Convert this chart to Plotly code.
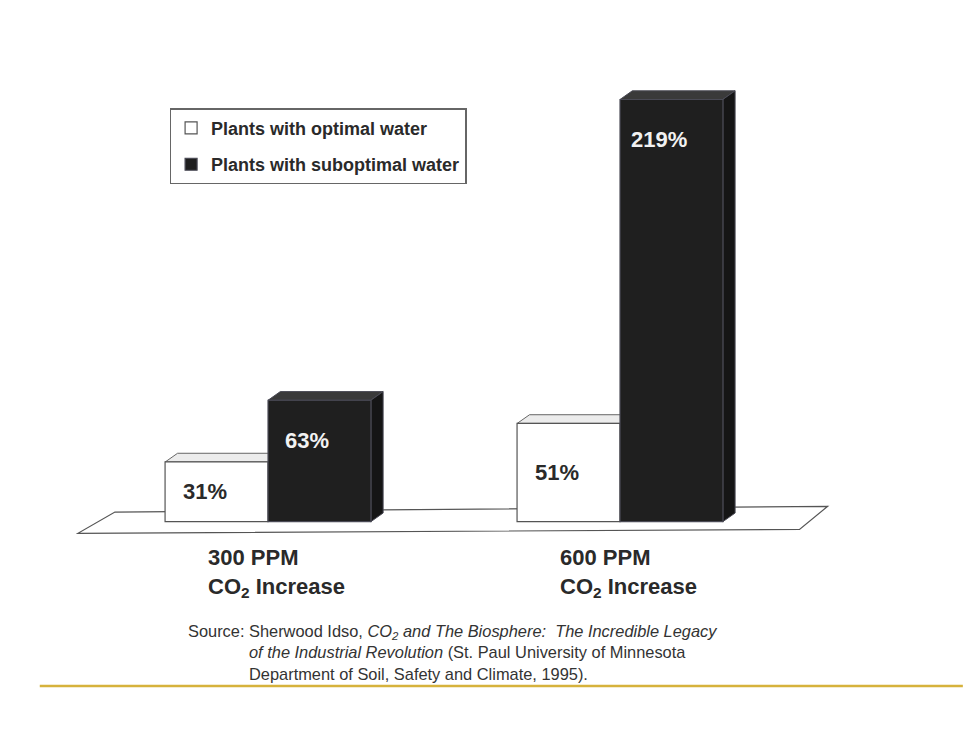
import plotly.graph_objects as go

categories = ["300 PPM", "600 PPM"]
cat_labels = ["300 PPM<br>CO<sub>2</sub> Increase", "600 PPM<br>CO<sub>2</sub> Increase"]
optimal = [31, 51]
suboptimal = [63, 219]
series_names = ["Plants with optimal water", "Plants with suboptimal water"]

FONT = "Arial, Liberation Sans, Helvetica, sans-serif"
x_idx = list(range(len(categories)))
BAR_HALF = 0.146   # half offset of each bar in group (from bargap)
BAR_W = 0.292
DX, DY = 0.035, 4.5  # 3D depth in axis units

fig = go.Figure()
fig.add_trace(go.Bar(x=x_idx, y=optimal, name=series_names[0],
                     marker=dict(color="#ffffff", line=dict(color="#555555", width=1.2)),
                     legendgroup="a"))
fig.add_trace(go.Bar(x=x_idx, y=suboptimal, name=series_names[1],
                     marker=dict(color="#1f1f1f", line=dict(color="#4a4a55", width=1.2)),
                     legendgroup="b"))

shapes = []
# floor platform
shapes.append(dict(type="path", xref="x", yref="y", layer="below",
                   path="M -0.54,-6 L 1.51,-4 L 1.59,8 L -0.435,5 Z",
                   fillcolor="#ffffff", line=dict(color="#555555", width=1.2)))
# 3D faces derived from data
for i, (vo, vs) in enumerate(zip(optimal, suboptimal)):
    for v, center, top_c, side_c, lc in [
        (vo, i - BAR_HALF, "#ececec", "#dddddd", "#666666"),
        (vs, i + BAR_HALF, "#3a3a3a", "#151515", "#4a4a55"),
    ]:
        x0, x1 = center - BAR_W / 2, center + BAR_W / 2
        shapes.append(dict(type="path", xref="x", yref="y", layer="below",
                           path=f"M {x0},{v} L {x1},{v} L {x1+DX},{v+DY} L {x0+DX},{v+DY} Z",
                           fillcolor=top_c, line=dict(color=lc, width=1)))
        shapes.append(dict(type="path", xref="x", yref="y", layer="below",
                           path=f"M {x1},0 L {x1},{v} L {x1+DX},{v+DY} L {x1+DX},{DY} Z",
                           fillcolor=side_c, line=dict(color=lc, width=1)))
# yellow rule
shapes.append(dict(type="line", xref="paper", yref="paper", x0=-0.024, x1=1.071,
                   y0=-0.301, y1=-0.301, line=dict(color="#d6b23c", width=2.5)))

annotations = []
for i, (vo, vs) in enumerate(zip(optimal, suboptimal)):
    annotations.append(dict(x=i - BAR_HALF, y=vo / 2, xref="x", yref="y", text=f"<b>{vo}%</b>",
                            showarrow=False, xshift=-12,
                            font=dict(family=FONT, size=22, color="#2a2a2a")))
    annotations.append(dict(x=i + BAR_HALF, y=vs, xref="x", yref="y", text=f"<b>{vs}%</b>",
                            showarrow=False, xshift=-12, yanchor="top", yshift=-26,
                            font=dict(family=FONT, size=22, color="#f2f2f2")))
    annotations.append(dict(x=i, y=0, xref="x", yref="paper", text=f"<b>{cat_labels[i]}</b>",
                            showarrow=False, xshift=8, yanchor="top", yshift=-2, align="left",
                            font=dict(family=FONT, size=22, color="#2a2a2a")))

annotations.append(dict(x=0.1495, y=-0.164, xref="paper", yref="paper", xanchor="left",
                        yanchor="top", showarrow=False, align="left", text="Source:",
                        font=dict(family=FONT, size=16.4, color="#333333")))
annotations.append(dict(x=0.2218, y=-0.164, xref="paper", yref="paper", xanchor="left",
                        yanchor="top", showarrow=False, align="left",
                        text=("Sherwood Idso, <i>CO<sub>2</sub> and The Biosphere:  The Incredible Legacy</i><br>"
                              "<i>of the Industrial Revolution</i> (St. Paul University of Minnesota<br>"
                              "Department of Soil, Safety and Climate, 1995)."),
                        font=dict(family=FONT, size=16.4, color="#333333")))

fig.update_layout(
    width=963, height=753,
    margin=dict(l=60, r=60, t=59, b=212),
    paper_bgcolor="#ffffff", plot_bgcolor="rgba(0,0,0,0)",
    barmode="group", bargap=0.415, bargroupgap=0,
    xaxis=dict(range=[-0.591, 1.804], visible=False, fixedrange=True),
    yaxis=dict(range=[-10, 240], visible=False, fixedrange=True),
    showlegend=True,
    legend=dict(x=0.13, y=0.898, xanchor="left", yanchor="top",
                bgcolor="#ffffff", bordercolor="#666666", borderwidth=1.5,
                font=dict(family=FONT, size=18, color="#2a2a2a"),
                traceorder="grouped", tracegroupgap=10, itemwidth=30),
    shapes=shapes, annotations=annotations,
)
for tr in fig.data:
    tr.name = f"<b>{tr.name}</b>"

fig.write_html("out.html")
